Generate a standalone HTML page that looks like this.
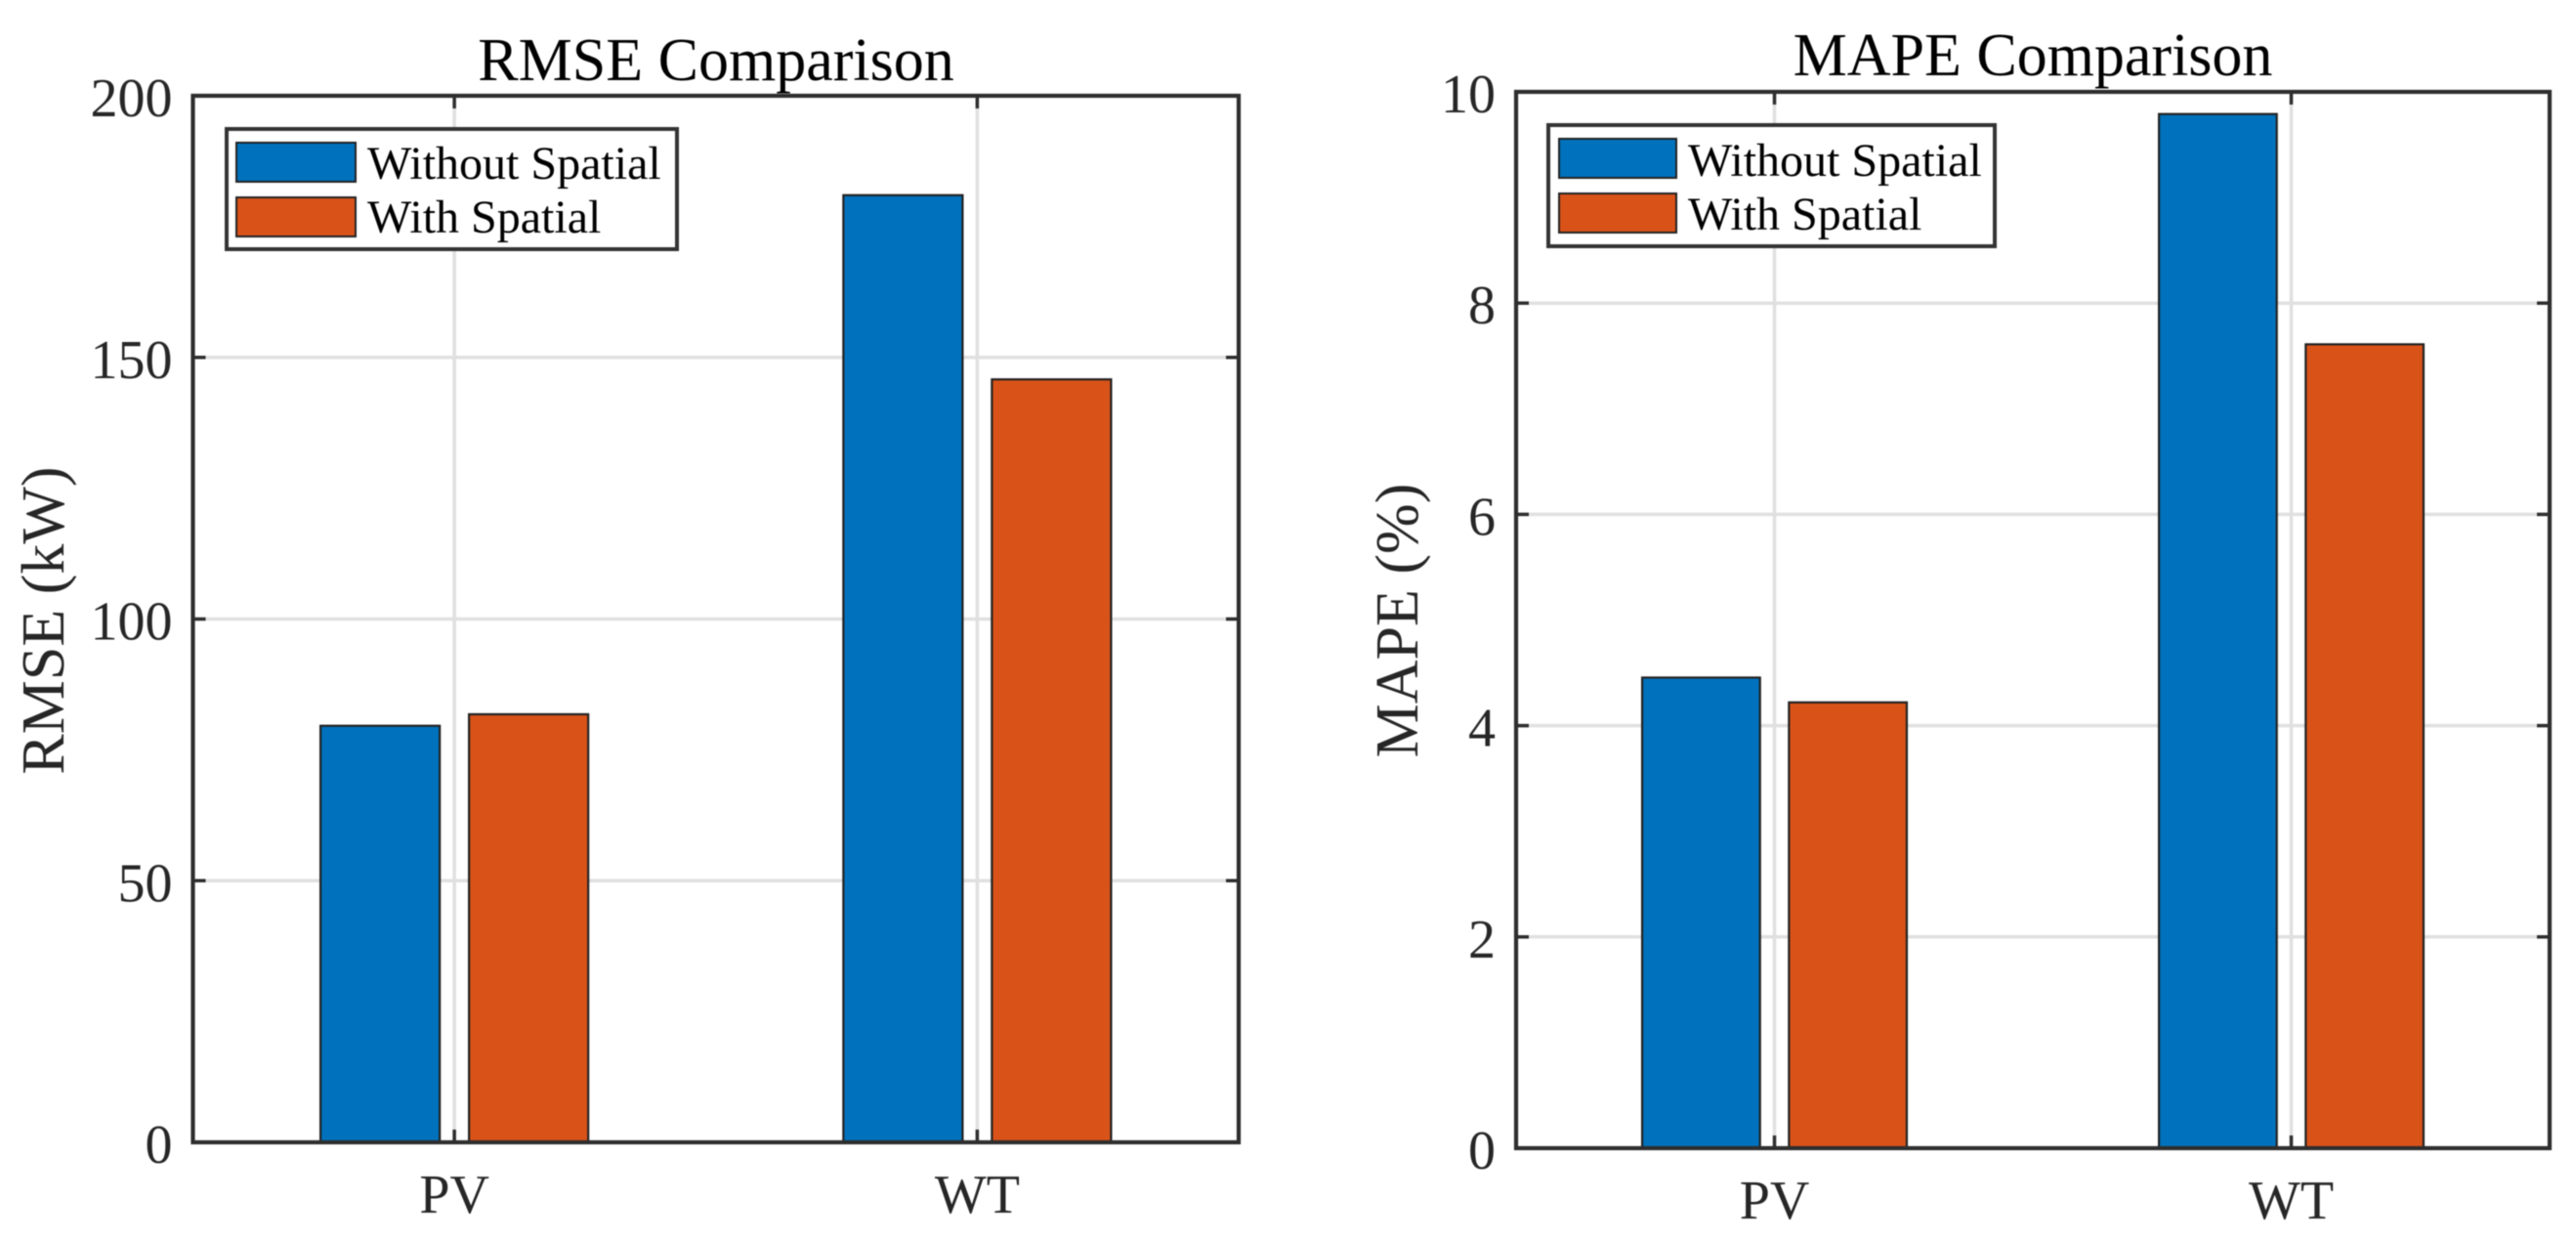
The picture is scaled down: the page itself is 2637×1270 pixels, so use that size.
<!DOCTYPE html>
<html lang="en">
<head>
<meta charset="utf-8">
<title>RMSE and MAPE Comparison</title>
<style>
  html, body { margin: 0; padding: 0; background: #fff; }
  body { width: 2637px; height: 1270px; overflow: hidden; }
  svg { display: block; filter: blur(0.6px); }
  text { font-family: "Liberation Serif", serif; }
  .tick-label { font-size: 56px; fill: #262626; }
  .title { font-size: 62px; fill: #000; text-anchor: middle; }
  .axis-title { font-size: 62px; fill: #262626; text-anchor: middle; }
  .legend-text { font-size: 48px; fill: #000; }
</style>
</head>
<body>
<svg id="figure" width="2637" height="1270" viewBox="0 0 2637 1270" xmlns="http://www.w3.org/2000/svg">
  <rect x="0" y="0" width="2637" height="1270" fill="#fff"/>

  <g id="rmse-panel">
    <g id="rmse-grid"></g>
    <g id="rmse-bars"></g>
    <g id="rmse-axes"></g>
    <text class="title" x="733" y="82">RMSE Comparison</text>
    <text class="axis-title" transform="translate(65 635) rotate(-90)">RMSE (kW)</text>
    <g>
      <rect x="232" y="132" width="461" height="123" fill="#fff" stroke="#333" stroke-width="4"/>
      <rect x="242" y="146" width="122" height="40" fill="#0072BD" stroke="#222" stroke-width="2"/>
      <text class="legend-text" x="376" y="183">Without Spatial</text>
      <rect x="242" y="202" width="122" height="40" fill="#D95319" stroke="#222" stroke-width="2"/>
      <text class="legend-text" x="376" y="238">With Spatial</text>
    </g>
  </g>

  <g id="mape-panel">
    <g id="mape-grid"></g>
    <g id="mape-bars"></g>
    <g id="mape-axes"></g>
    <text class="title" x="2081" y="77">MAPE Comparison</text>
    <text class="axis-title" transform="translate(1451 635) rotate(-90)">MAPE (%)</text>
    <g>
      <rect x="1585" y="128" width="457" height="124" fill="#fff" stroke="#333" stroke-width="4"/>
      <rect x="1596" y="142" width="120" height="40" fill="#0072BD" stroke="#222" stroke-width="2"/>
      <text class="legend-text" x="1728" y="180">Without Spatial</text>
      <rect x="1596" y="198" width="120" height="40" fill="#D95319" stroke="#222" stroke-width="2"/>
      <text class="legend-text" x="1728" y="235">With Spatial</text>
    </g>
  </g>
</svg>

<script>
const categories = ['PV', 'WT'];
const rmseWithoutSpatial = [79.6, 181];
const rmseWithSpatial = [81.8, 145.8];
const mapeWithoutSpatial = [4.455, 9.79];
const mapeWithSpatial = [4.22, 7.61];
const rmseTicks = [0, 50, 100, 150, 200];
const mapeTicks = [0, 2, 4, 6, 8, 10];

const SVG_NS = 'http://www.w3.org/2000/svg';

function make(tag, parent, props) {
  const el = document.createElementNS(SVG_NS, tag);
  for (const key in props) {
    el.setAttribute(key, props[key]);
  }
  parent.appendChild(el);
  return el;
}

function drawPanel(id, box, ticks, seriesA, seriesB, labelBase) {
  const gridLayer = document.getElementById(id + '-grid');
  const barLayer = document.getElementById(id + '-bars');
  const axesLayer = document.getElementById(id + '-axes');

  const yMax = ticks[ticks.length - 1];
  const yScale = v => box.bottom - (v / yMax) * (box.bottom - box.top);
  const xScale = v => box.left + ((v - 0.5) / categories.length) * (box.right - box.left);

  const gridColor = '#e0e0e0';
  const axisColor = '#2e2e2e';
  const tickLen = 13;

  ticks.forEach(t => {
    const y = yScale(t);
    if (t !== 0 && t !== yMax) {
      const line = make('line', gridLayer, { x1: box.left, x2: box.right, y1: y, y2: y, stroke: gridColor, 'stroke-width': 3.5 });
      
      
    }
    if (t !== 0 && t !== yMax) {
      const tl = make('line', axesLayer, { x1: box.left, x2: box.left + tickLen, y1: y, y2: y, stroke: axisColor, 'stroke-width': 3.5 });
      
      
      const tr = make('line', axesLayer, { x1: box.right, x2: box.right - tickLen, y1: y, y2: y, stroke: axisColor, 'stroke-width': 3.5 });
      
      
    }
    const label = make('text', axesLayer, { class: 'tick-label', x: box.left - 21, y: y + 21, 'text-anchor': 'end' });
    label.textContent = String(t);
    
    
  });

  const barWidth = 0.228;
  const barOffset = 0.142;
  const series = [
    { values: seriesA, fill: '#0072BD', sign: -1, key: 'without-spatial' },
    { values: seriesB, fill: '#D95319', sign: 1, key: 'with-spatial' }
  ];

  categories.forEach((cat, i) => {
    const pos = i + 1;
    const cx = xScale(pos);

    const vg = make('line', gridLayer, { x1: cx, x2: cx, y1: box.top, y2: box.bottom, stroke: gridColor, 'stroke-width': 3.5 });
    
    

    series.forEach(s => {
      const c = pos + s.sign * barOffset;
      const x0 = xScale(c - barWidth / 2);
      const x1 = xScale(c + barWidth / 2);
      const yTop = yScale(s.values[i]);
      const bar = make('rect', barLayer, {
        x: x0, y: yTop, width: x1 - x0, height: box.bottom - yTop,
        fill: s.fill, stroke: '#222', 'stroke-width': 2.2
      });
      
      
    });

    const tb = make('line', axesLayer, { x1: cx, x2: cx, y1: box.bottom, y2: box.bottom - tickLen, stroke: axisColor, 'stroke-width': 3.5 });
    
    
    const tt = make('line', axesLayer, { x1: cx, x2: cx, y1: box.top, y2: box.top + tickLen, stroke: axisColor, 'stroke-width': 3.5 });
    
    

    const xl = make('text', axesLayer, { class: 'tick-label', x: cx, y: labelBase, 'text-anchor': 'middle' });
    xl.textContent = cat;
    
    
  });

  const frame = make('rect', axesLayer, {
    x: box.left, y: box.top, width: box.right - box.left, height: box.bottom - box.top,
    fill: 'none', stroke: axisColor, 'stroke-width': 4.2
  });
  
  
}

drawPanel('rmse', { left: 197.5, right: 1268, top: 98, bottom: 1169 }, rmseTicks, rmseWithoutSpatial, rmseWithSpatial, 1241);
drawPanel('mape', { left: 1552, right: 2610, top: 94, bottom: 1175 }, mapeTicks, mapeWithoutSpatial, mapeWithSpatial, 1247);
</script>
</body>
</html>
